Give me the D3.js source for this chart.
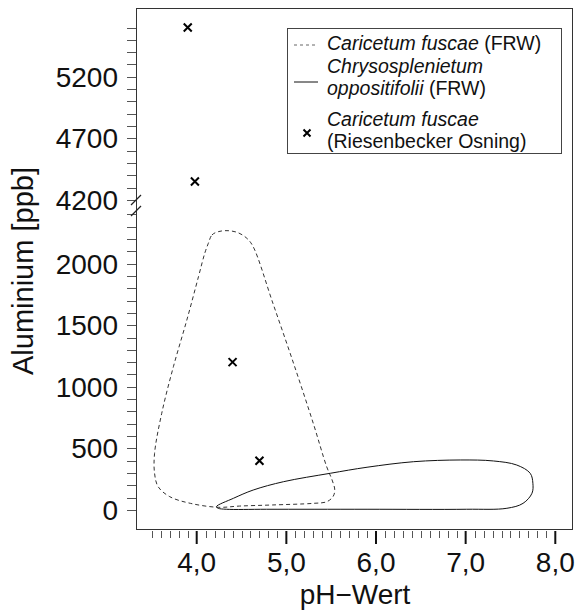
<!DOCTYPE html>
<html><head><meta charset="utf-8">
<script src="https://cdn.jsdelivr.net/npm/d3@7"></script>
<style>
html,body{margin:0;padding:0;background:#fff;}
svg{display:block;font-family:"Liberation Sans",Arial,Helvetica,sans-serif;}
</style></head>
<body>
<svg id="chart" width="579" height="611"></svg>
<script>
// ---- data ----
const phMajorTicks = [4, 5, 6, 7, 8];
const alLowMajorTicks = [0, 500, 1000, 1500, 2000];
const alHighMajorTicks = [4200, 4700, 5200];

// Riesenbecker Osning samples (x markers)
const samplePH = [3.9, 3.98, 4.4, 4.7];
const sampleAl = [5600, 4350, 1200, 400];

// Caricetum fuscae (FRW) envelope (dashed)
const caricetumPH = [4.13,4.17,4.24,4.35,4.46,4.56,4.63,4.85,5.08,5.30,5.45,5.51,5.54,5.52,5.45,5.30,4.85,4.48,4.24,3.93,3.70,3.57,3.53,3.53,3.61,3.74,3.89,4.02,4.09];
const caricetumAl = [2165,2232,2259,2267,2251,2205,2137,1678,1191,704,351,244,162,108,67,54,41,32,22,54,108,189,298,460,785,1163,1542,1894,2084];

// Chrysosplenietum oppositifolii (FRW) envelope (solid)
const chrysoPH = [4.22,4.41,4.63,4.97,5.49,5.90,6.42,6.94,7.31,7.57,7.72,7.75,7.74,7.64,7.46,7.01,5.90,4.78,4.33,4.24];
const chrysoAl = [27,95,162,230,298,347,392,406,398,365,298,217,136,54,14,6,6,6,6,14];

const legendLabels = [
  [["Caricetum fuscae", true], [" (FRW)", false]],
  [["Chrysosplenietum", true]],
  [["oppositifolii", true], [" (FRW)", false]],
  [["Caricetum fuscae", true]],
  [["(Riesenbecker Osning)", false]]
];

// ---- layout ----
const box = {left: 136, right: 572, top: 8, bottom: 529};
const svg = d3.select("#chart");

const x = d3.scaleLinear().domain([4, 8]).range([196.7, 555.3]);
const yLow = d3.scaleLinear().domain([0, 2400]).range([510, 214.3]);
const yHigh = d3.scaleLinear().domain([4200, 5600]).range([200, 27.5]);
const yAny = v => v >= 4200 ? yHigh(v) : yLow(v);
const fmt = d => d3.format(".1f")(d).replace(".", ",");

// plot box
svg.append("rect")
  .attr("x", box.left + 0.5).attr("y", box.top + 0.5)
  .attr("width", box.right - box.left).attr("height", box.bottom - box.top)
  .attr("fill", "none").attr("stroke", "#333").attr("stroke-width", 1);

// x axis (detached below box)
const xMinor = d3.range(35, 81).map(d => d / 10);
const gx = svg.append("g");
gx.selectAll("line.minor").data(xMinor.filter(d => Math.abs(d - Math.round(d)) > 1e-6))
  .join("line").attr("class","minor")
  .attr("x1", d => Math.round(x(d)) + 0.5).attr("x2", d => Math.round(x(d)) + 0.5)
  .attr("y1", 531).attr("y2", 538).attr("stroke", "#555").attr("stroke-width", 1);
gx.selectAll("line.major").data(phMajorTicks).join("line").attr("class","major")
  .attr("x1", d => x(d)).attr("x2", d => x(d))
  .attr("y1", 531).attr("y2", 544).attr("stroke", "#111").attr("stroke-width", 2);
gx.selectAll("text").data(phMajorTicks).join("text")
  .attr("x", d => x(d)).attr("y", 572).attr("text-anchor", "middle")
  .attr("font-size", 28).attr("fill", "#111").text(fmt);
svg.append("text").attr("x", 355).attr("y", 604).attr("text-anchor", "middle")
  .attr("font-size", 28).attr("fill", "#111").text("pH\u2212Wert");

// y axis (ticks attached to box left)
const gy = svg.append("g");
const lowMinor = d3.range(0, 2401, 100);
const highMinor = d3.range(4200, 5601, 100);
const yTicks = lowMinor.map(v => yLow(v)).concat(highMinor.map(v => yHigh(v)));
gy.selectAll("line").data(yTicks).join("line")
  .attr("x1", 127).attr("x2", box.left)
  .attr("y1", d => Math.round(d) + 0.5).attr("y2", d => Math.round(d) + 0.5)
  .attr("stroke", "#555").attr("stroke-width", 1);
const yLabels = alLowMajorTicks.map(v => ({v, y: yLow(v)}))
  .concat(alHighMajorTicks.map(v => ({v, y: yHigh(v)})));
gy.selectAll("text").data(yLabels).join("text")
  .attr("x", 118).attr("y", d => d.y).attr("dy", "0.36em")
  .attr("text-anchor", "end").attr("font-size", 28).attr("fill", "#111")
  .text(d => d.v);
// axis break marks
[205, 216].forEach(yb => {
  svg.append("line").attr("x1", 131).attr("y1", yb).attr("x2", 141).attr("y2", yb - 10)
    .attr("stroke", "#222").attr("stroke-width", 1.2);
});
svg.append("text")
  .attr("transform", "translate(33,271) rotate(-90)")
  .attr("text-anchor", "middle").attr("font-size", 29).attr("fill", "#111")
  .text("Aluminium [ppb]");

// envelopes
const line = d3.line().x(d => x(d[0])).y(d => yLow(d[1]))
  .curve(d3.curveCatmullRomClosed.alpha(0.5));
svg.append("path")
  .attr("d", line(caricetumPH.map((p, i) => [p, caricetumAl[i]])))
  .attr("fill", "none").attr("stroke", "#333").attr("stroke-width", 1)
  .attr("stroke-dasharray", "4,3");
svg.append("path")
  .attr("d", line(chrysoPH.map((p, i) => [p, chrysoAl[i]])))
  .attr("fill", "none").attr("stroke", "#111").attr("stroke-width", 1);

// sample markers
const xMark = "M-4,-4L4,4M-4,4L4,-4";
svg.selectAll("path.pt").data(samplePH.map((p, i) => [p, sampleAl[i]]))
  .join("path").attr("class", "pt")
  .attr("transform", d => `translate(${x(d[0])},${yAny(d[1])})`)
  .attr("d", xMark).attr("stroke", "#000").attr("stroke-width", 2).attr("fill", "none");

// legend
const lg = svg.append("g");
lg.append("rect").attr("x", 287.5).attr("y", 28.5).attr("width", 274).attr("height", 125)
  .attr("fill", "#fff").attr("stroke", "#444").attr("stroke-width", 1);
lg.append("line").attr("x1", 294).attr("x2", 317).attr("y1", 45).attr("y2", 45)
  .attr("stroke", "#666").attr("stroke-width", 1).attr("stroke-dasharray", "3,3");
lg.append("line").attr("x1", 294).attr("x2", 318).attr("y1", 82).attr("y2", 82)
  .attr("stroke", "#111").attr("stroke-width", 1);
lg.append("path").attr("transform", "translate(307,133)")
  .attr("d", "M-3.5,-3.5L3.5,3.5M-3.5,3.5L3.5,-3.5").attr("stroke", "#000").attr("stroke-width", 2);
const baselines = [50, 73, 95, 126, 148];
legendLabels.forEach((parts, i) => {
  const t = lg.append("text").attr("x", 327).attr("y", baselines[i])
    .attr("font-size", 19.5).attr("fill", "#111");
  parts.forEach(([s, it]) => t.append("tspan").attr("font-style", it ? "italic" : "normal").text(s));
});
</script>
</body></html>
